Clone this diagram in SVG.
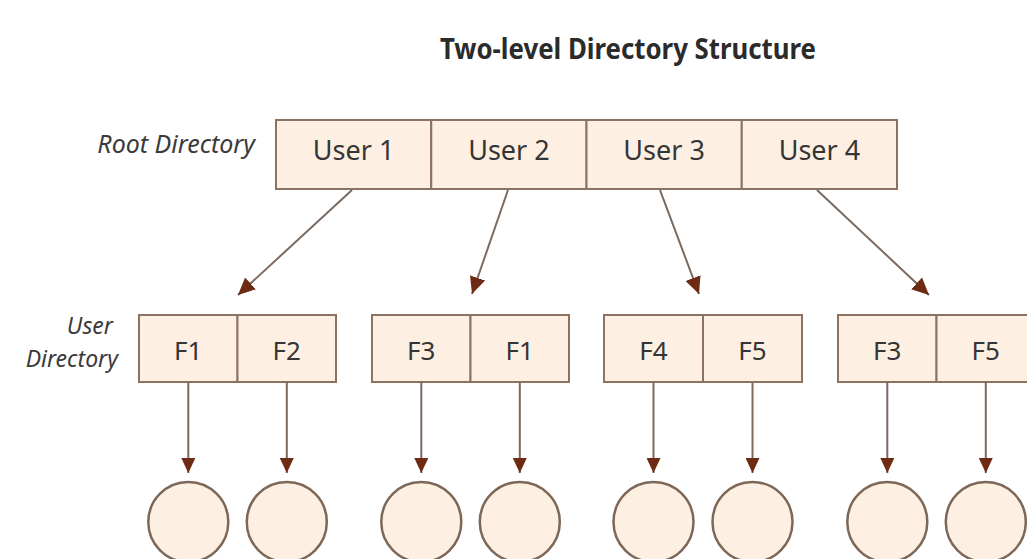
<svg xmlns="http://www.w3.org/2000/svg" width="1027" height="559" viewBox="0 0 1027 559">
  <defs>
    <marker id="headv" viewBox="0 0 16 14" refX="15" refY="7" markerWidth="16" markerHeight="14" markerUnits="userSpaceOnUse" orient="auto">
      <path d="M0,0 L15,7 L0,14 Z" fill="#6e2a12"/>
    </marker>
    <marker id="headd" viewBox="0 0 18 18" refX="17" refY="9" markerWidth="18" markerHeight="18" markerUnits="userSpaceOnUse" orient="auto">
      <path d="M0,1 L17,9 L0,17 Z" fill="#6e2a12"/>
    </marker>
  </defs>
  <style>
    .cell { fill: #fdf0e3; stroke: #8c7260; stroke-width: 2; }
    .leaf { fill: #fdf0e3; stroke: #7d6858; stroke-width: 2.5; }
    .lbl { font-family: "Source Sans Pro", "Noto Sans", "Open Sans", sans-serif; fill: #353535; text-anchor: middle; }
    .user { font-size: 27px; }
    .file { font-size: 26px; }
    .side { font-family: "Noto Sans", "Open Sans", sans-serif; font-style: italic; fill: #3a3a3a; text-anchor: end; }
    .link { stroke: #7a6a60; stroke-width: 2; fill: none; }
  </style>
  <rect width="1027" height="559" fill="#ffffff"/>

  <text x="628" y="59" font-family="Noto Sans, Open Sans, sans-serif" font-weight="bold" font-size="28" fill="#2b2b2b" text-anchor="middle" textLength="376" lengthAdjust="spacingAndGlyphs">Two-level Directory Structure</text>

  <!-- level labels -->
  <text class="side" x="255" y="153" font-size="25">Root Directory</text>
  <text class="side" x="113" y="334" font-size="23">User</text>
  <text class="side" x="118" y="367" font-size="23">Directory</text>

  <!-- root directory -->
  <g id="root">
    <rect class="cell" x="276" y="120" width="155.25" height="69"/>
    <rect class="cell" x="431.25" y="120" width="155.25" height="69"/>
    <rect class="cell" x="586.5" y="120" width="155.25" height="69"/>
    <rect class="cell" x="741.75" y="120" width="155.25" height="69"/>
    <text class="lbl user" x="353.6" y="160">User 1</text>
    <text class="lbl user" x="508.9" y="160">User 2</text>
    <text class="lbl user" x="664.1" y="160">User 3</text>
    <text class="lbl user" x="819.4" y="160">User 4</text>
  </g>

  <!-- user directories -->
  <g id="ud1">
    <rect class="cell" x="139" y="315" width="98.5" height="67"/>
    <rect class="cell" x="237.5" y="315" width="98.5" height="67"/>
    <text class="lbl file" x="188.3" y="360">F1</text>
    <text class="lbl file" x="286.8" y="360">F2</text>
  </g>
  <g id="ud2">
    <rect class="cell" x="372" y="315" width="98.5" height="67"/>
    <rect class="cell" x="470.5" y="315" width="98.5" height="67"/>
    <text class="lbl file" x="421.3" y="360">F3</text>
    <text class="lbl file" x="519.8" y="360">F1</text>
  </g>
  <g id="ud3">
    <rect class="cell" x="604" y="315" width="99" height="67"/>
    <rect class="cell" x="703" y="315" width="99" height="67"/>
    <text class="lbl file" x="653.5" y="360">F4</text>
    <text class="lbl file" x="752.5" y="360">F5</text>
  </g>
  <g id="ud4">
    <rect class="cell" x="838" y="315" width="98.5" height="67"/>
    <rect class="cell" x="936.5" y="315" width="98.5" height="67"/>
    <text class="lbl file" x="887.3" y="360">F3</text>
    <text class="lbl file" x="985.8" y="360">F5</text>
  </g>

  <!-- files -->
  <g id="files">
    <circle class="leaf" cx="188.3" cy="522" r="40"/>
    <circle class="leaf" cx="286.8" cy="522" r="40"/>
    <circle class="leaf" cx="421.3" cy="522" r="40"/>
    <circle class="leaf" cx="519.8" cy="522" r="40"/>
    <circle class="leaf" cx="653.5" cy="522" r="40"/>
    <circle class="leaf" cx="752.5" cy="522" r="40"/>
    <circle class="leaf" cx="887.3" cy="522" r="40"/>
    <circle class="leaf" cx="985.8" cy="522" r="40"/>
  </g>

  <!-- connectors -->
  <g id="connectors">
    <line class="link" x1="352" y1="190" x2="238" y2="295" marker-end="url(#headd)"/>
    <line class="link" x1="508" y1="190" x2="472" y2="294" marker-end="url(#headd)"/>
    <line class="link" x1="660" y1="190" x2="699" y2="294" marker-end="url(#headd)"/>
    <line class="link" x1="817" y1="190" x2="929" y2="295" marker-end="url(#headd)"/>

    <line class="link" x1="188.3" y1="382" x2="188.3" y2="473" marker-end="url(#headv)"/>
    <line class="link" x1="286.8" y1="382" x2="286.8" y2="473" marker-end="url(#headv)"/>
    <line class="link" x1="421.3" y1="382" x2="421.3" y2="473" marker-end="url(#headv)"/>
    <line class="link" x1="519.8" y1="382" x2="519.8" y2="473" marker-end="url(#headv)"/>
    <line class="link" x1="653.5" y1="382" x2="653.5" y2="473" marker-end="url(#headv)"/>
    <line class="link" x1="752.5" y1="382" x2="752.5" y2="473" marker-end="url(#headv)"/>
    <line class="link" x1="887.3" y1="382" x2="887.3" y2="473" marker-end="url(#headv)"/>
    <line class="link" x1="985.8" y1="382" x2="985.8" y2="473" marker-end="url(#headv)"/>
  </g>
</svg>
